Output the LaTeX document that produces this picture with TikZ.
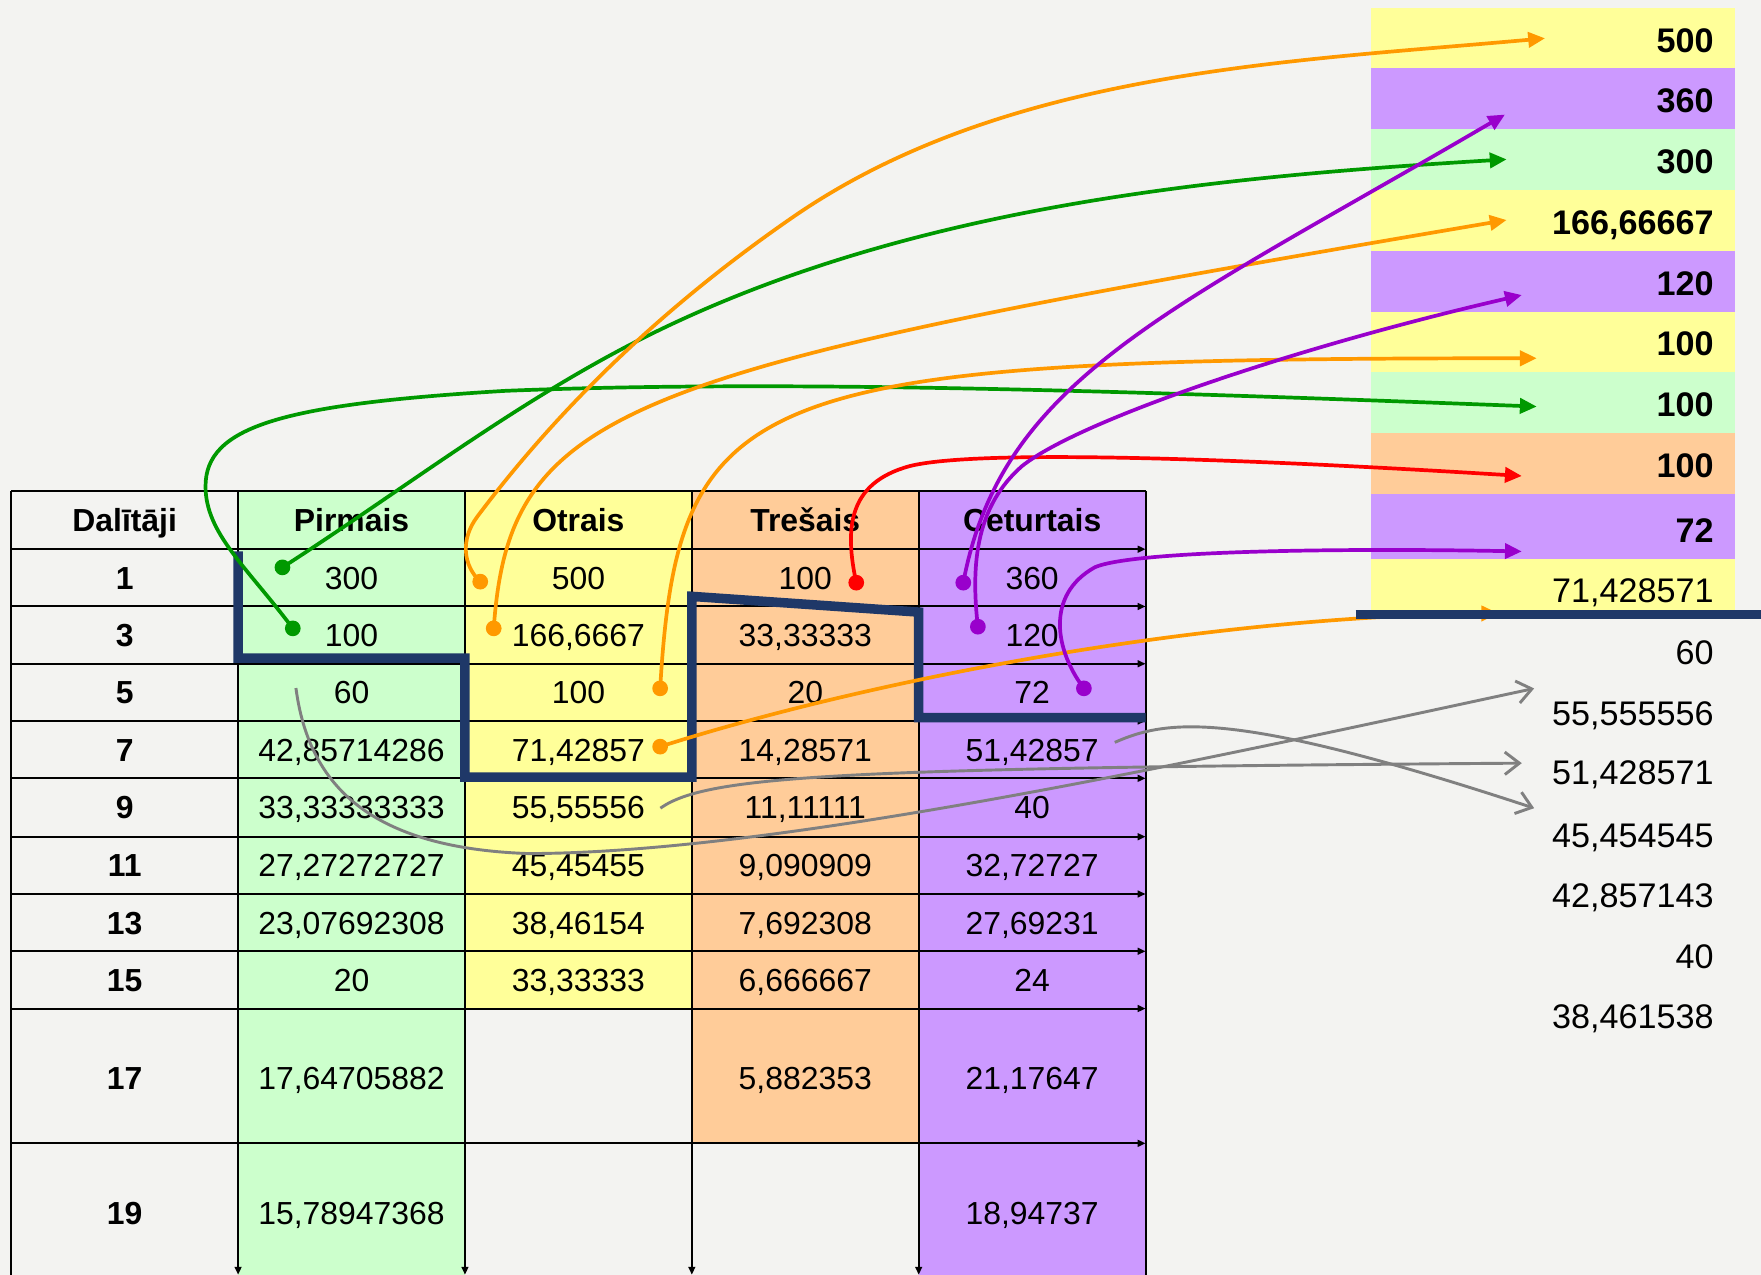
\documentclass[tikz,border=0pt]{standalone}
\usepackage{fontspec}
\setmainfont{Liberation Sans}
\usetikzlibrary{arrows.meta}
\definecolor{bg}{HTML}{F3F3F1}
\definecolor{cgreen}{HTML}{CCFFCC}
\definecolor{cyellow}{HTML}{FFFF99}
\definecolor{corange}{HTML}{FFCC99}
\definecolor{cpurple}{HTML}{CC99FF}
\definecolor{navy}{HTML}{1F3868}
\definecolor{agreen}{HTML}{009900}
\definecolor{aorange}{HTML}{FF9900}
\definecolor{apurple}{HTML}{9900CC}
\definecolor{ared}{HTML}{FF0000}
\definecolor{agray}{HTML}{808080}
\tikzset{
  tabtxt/.style={font={\fontsize{28.4pt}{34pt}\selectfont}, anchor=base, inner sep=0pt},
  tabbold/.style={font={\fontsize{28.4pt}{34pt}\selectfont\bfseries}, anchor=base, inner sep=0pt},
  rtxt/.style={font={\fontsize{30.4pt}{36pt}\selectfont}, anchor=base east, inner sep=0pt},
  rbold/.style={font={\fontsize{30.4pt}{36pt}\selectfont\bfseries}, anchor=base east, inner sep=0pt},
  tabline/.style={line width=1.8pt, black},
  tabarrow/.style={tabline, -{Triangle[length=7pt,width=6pt]}},
  navyline/.style={line width=8.5pt, navy, line join=miter},
  dotnode/.style={circle, inner sep=0pt, minimum size=14pt},
  conn/.style={line width=3.3pt, -{Triangle[length=15pt,width=13.5pt]}},
  gconn/.style={line width=2.6pt, agray, -{Straight Barb[length=13pt,width=20pt]}}
}
\begin{document}
\begin{tikzpicture}[x=1pt,y=-1pt]
\useasboundingbox (0,0) rectangle (1568,1135);
\fill[bg] (0,0) rectangle (1568,1135);

% ---------- table fills
\fill[cgreen]  (212,437) rectangle (414,1135);
\fill[cyellow] (414,437) rectangle (616,898);
\fill[corange] (616,437) rectangle (818,1018);
\fill[cpurple] (818,437) rectangle (1020,1135);

% ---------- right column stripes
\fill[cyellow] (1221,7.1)   rectangle (1545,60.5);
\fill[cpurple] (1221,60.5)  rectangle (1545,114.9);
\fill[cgreen]  (1221,114.9) rectangle (1545,169.2);
\fill[cyellow] (1221,169.2) rectangle (1545,223.5);
\fill[cpurple] (1221,223.5) rectangle (1545,277.8);
\fill[cyellow] (1221,277.8) rectangle (1545,331.2);
\fill[cgreen]  (1221,331.2) rectangle (1545,385.5);
\fill[corange] (1221,385.5) rectangle (1545,439.9);
\fill[cpurple] (1221,439.9) rectangle (1545,497.7);
\fill[cyellow] (1221,497.7) rectangle (1545,547);

% ---------- table lines
\draw[tabline] (10,437) -- (1020,437);
\draw[tabline] (10,437) -- (10,1135);
\draw[tabline] (1020,437) -- (1020,1135);
\foreach \yy in {489,540,591,642,693,745,796,847,898,1018}
  \draw[tabarrow] (10,\yy) -- (1020,\yy);
\foreach \xx in {212,414,616,818}
  \draw[tabarrow] (\xx,437) -- (\xx,1135);

% ---------- header
\node[tabbold] (h0) at (111,473.2) {Dalītāji};
\node[tabbold] (h1) at (313,473.2) {Pirmais};
\node[tabbold] (h2) at (515,473.2) {Otrais};
\node[tabbold] (h3) at (717,473.2) {Trešais};
\node[tabbold] (h4) at (919,473.2) {Ceturtais};

% ---------- rows
\node[tabbold] (l1) at (111,524.7) {1};
\node[tabtxt] (p1) at (313,524.7) {300};
\node[tabtxt] (o1) at (515,524.7) {500};
\node[tabtxt] (t1) at (717,524.7) {100};
\node[tabtxt] (c1) at (919,524.7) {360};

\node[tabbold] (l3) at (111,575.7) {3};
\node[tabtxt] (p3) at (313,575.7) {100};
\node[tabtxt] (o3) at (515,575.7) {166,6667};
\node[tabtxt] (t3) at (717,575.7) {33,33333};
\node[tabtxt] (c3) at (919,575.7) {120};

\node[tabbold] (l5) at (111,626.7) {5};
\node[tabtxt] (p5) at (313,626.7) {60};
\node[tabtxt] (o5) at (515,626.7) {100};
\node[tabtxt] (t5) at (717,626.7) {20};
\node[tabtxt] (c5) at (919,626.7) {72};

\node[tabbold] (l7) at (111,677.7) {7};
\node[tabtxt] (p7) at (313,677.7) {42,85714286};
\node[tabtxt] (o7) at (515,677.7) {71,42857};
\node[tabtxt] (t7) at (717,677.7) {14,28571};
\node[tabtxt] (c7) at (919,677.7) {51,42857};

\node[tabbold] (l9) at (111,729.2) {9};
\node[tabtxt] (p9) at (313,729.2) {33,33333333};
\node[tabtxt] (o9) at (515,729.2) {55,55556};
\node[tabtxt] (t9) at (717,729.2) {11,11111};
\node[tabtxt] (c9) at (919,729.2) {40};

\node[tabbold] (l11) at (111,780.7) {11};
\node[tabtxt] (p11) at (313,780.7) {27,27272727};
\node[tabtxt] (o11) at (515,780.7) {45,45455};
\node[tabtxt] (t11) at (717,780.7) {9,090909};
\node[tabtxt] (c11) at (919,780.7) {32,72727};

\node[tabbold] (l13) at (111,831.7) {13};
\node[tabtxt] (p13) at (313,831.7) {23,07692308};
\node[tabtxt] (o13) at (515,831.7) {38,46154};
\node[tabtxt] (t13) at (717,831.7) {7,692308};
\node[tabtxt] (c13) at (919,831.7) {27,69231};

\node[tabbold] (l15) at (111,882.7) {15};
\node[tabtxt] (p15) at (313,882.7) {20};
\node[tabtxt] (o15) at (515,882.7) {33,33333};
\node[tabtxt] (t15) at (717,882.7) {6,666667};
\node[tabtxt] (c15) at (919,882.7) {24};

\node[tabbold] (l17) at (111,970) {17};
\node[tabtxt] (p17) at (313,970) {17,64705882};
\node[tabtxt] (t17) at (717,970) {5,882353};
\node[tabtxt] (c17) at (919,970) {21,17647};

\node[tabbold] (l19) at (111,1090) {19};
\node[tabtxt] (p19) at (313,1090) {15,78947368};
\node[tabtxt] (c19) at (919,1090) {18,94737};

% ---------- right column texts
\node[rbold] (R1)  at (1526,46.5)  {500};
\node[rbold] (R2)  at (1526,99.9)  {360};
\node[rbold] (R3)  at (1526,154.9) {300};
\node[rbold] (R4)  at (1526,208.4) {166,66667};
\node[rbold] (R5)  at (1526,262.9) {120};
\node[rbold] (R6)  at (1526,316.9) {100};
\node[rbold] (R7)  at (1526,370.9) {100};
\node[rbold] (R8)  at (1526,424.9) {100};
\node[rbold] (R9)  at (1526,482.9) {72};
\node[rtxt]  (R10) at (1526,536.9) {71,428571};
\node[rtxt]  (R11) at (1526,591.4) {60};
\node[rtxt]  (R12) at (1526,645.9) {55,555556};
\node[rtxt]  (R13) at (1526,698.9) {51,428571};
\node[rtxt]  (R14) at (1526,754.4) {45,454545};
\node[rtxt]  (R15) at (1526,807.9) {42,857143};
\node[rtxt]  (R16) at (1526,861.9) {40};
\node[rtxt]  (R17) at (1526,915.9) {38,461538};

% ---------- navy boundary in the table
\draw[navyline] (212,491) -- (212,586) -- (414,586) -- (414,692) -- (616,692)
  -- (616,531) -- (818,545) -- (818,639) -- (1020,639);

% ---------- start dots and end points
\node[dotnode, fill=agreen]  (dP1) at (251.5,505.2) {};
\node[dotnode, fill=agreen]  (dP3) at (260.7,559.5) {};
\node[dotnode, fill=aorange] (dO1) at (427.6,517.9) {};
\node[dotnode, fill=aorange] (dO3) at (439.6,559.5) {};
\node[dotnode, fill=aorange] (dO5) at (587.8,612.9) {};
\node[dotnode, fill=aorange] (dO7) at (587.8,664.8) {};
\node[dotnode, fill=ared]    (dT1) at (762.4,518.8) {};
\node[dotnode, fill=apurple] (dC1) at (857.7,518.8) {};
\node[dotnode, fill=apurple] (dC3) at (870.7,558) {};
\node[dotnode, fill=apurple] (dC5) at (965.1,612.9) {};
\coordinate (gP5) at (263.5,612.6);
\coordinate (gO9) at (588,719.6);
\coordinate (gC7) at (992.6,661);

\coordinate (eR1)  at (1375.7,34.1);
\coordinate (eR2)  at (1340,102);
\coordinate (eR3)  at (1341.5,141.9);
\coordinate (eR4)  at (1341.5,195.9);
\coordinate (eR5)  at (1355,262.7);
\coordinate (eR6)  at (1368.3,319);
\coordinate (eR7)  at (1368.3,362);
\coordinate (eR8)  at (1355,423.8);
\coordinate (eR9)  at (1355,491);
\coordinate (eR10) at (1334,546);
\coordinate (gE1)  at (1366,613);
\coordinate (gE2)  at (1355,679.5);
\coordinate (gE3)  at (1366,719.6);

% ---------- gray connectors
\draw[gconn] (gP5) .. controls (275,700) and (330,755) .. (470,760)
  .. controls (700,760) and (1100,670) .. (gE1);
\draw[gconn] (gO9) .. controls (630,690) and (750,684) .. (gE2);
\draw[gconn] (gC7) .. controls (1040,640) and (1100,632) .. (gE3);

% ---------- coloured connectors
\draw[conn, agreen] (dP1.center) .. controls (359,436) and (460,357.5) .. (573.6,300.5)
  .. controls (807,183.5) and (1081,157.6) .. (eR3);
\draw[conn, agreen] (dP3.center) .. controls (220,505) and (183,475) .. (183,433)
  .. controls (183,380) and (250,360) .. (450,348)
  .. controls (700,338) and (1000,348) .. (eR7);
\draw[conn, aorange] (dO1.center) .. controls (412,503) and (410,480) .. (425,460)
  .. controls (503,356) and (598,268) .. (705,194)
  .. controls (894,63) and (1146,55) .. (eR1);
\draw[conn, aorange] (dO3.center) .. controls (454,360) and (552,330) .. (eR4);
\draw[conn, aorange] (dO5.center) .. controls (604,344) and (664,319) .. (eR6);
\draw[conn, aorange] (dO7.center) .. controls (760,610) and (1050,550) .. (eR10);
\draw[conn, ared] (dT1.center) .. controls (752,470) and (755,430) .. (810,415)
  .. controls (870,400) and (1100,408) .. (eR8);
\draw[conn, apurple] (dC1.center) .. controls (892,336) and (1043,276) .. (eR2);
\draw[conn, apurple] (dC3.center) .. controls (864,500) and (870,450) .. (910,415)
  .. controls (960,375) and (1150,310) .. (eR5);
\draw[conn, apurple] (dC5.center) .. controls (940,580) and (930,530) .. (975,505)
  .. controls (1010,490) and (1200,488) .. (eR9);

% ---------- navy line at the right
\coordinate (nA) at (1207,547);
\coordinate (nB) at (1568,547);
\draw[navyline] (nA) -- (nB);
\end{tikzpicture}
\end{document}
